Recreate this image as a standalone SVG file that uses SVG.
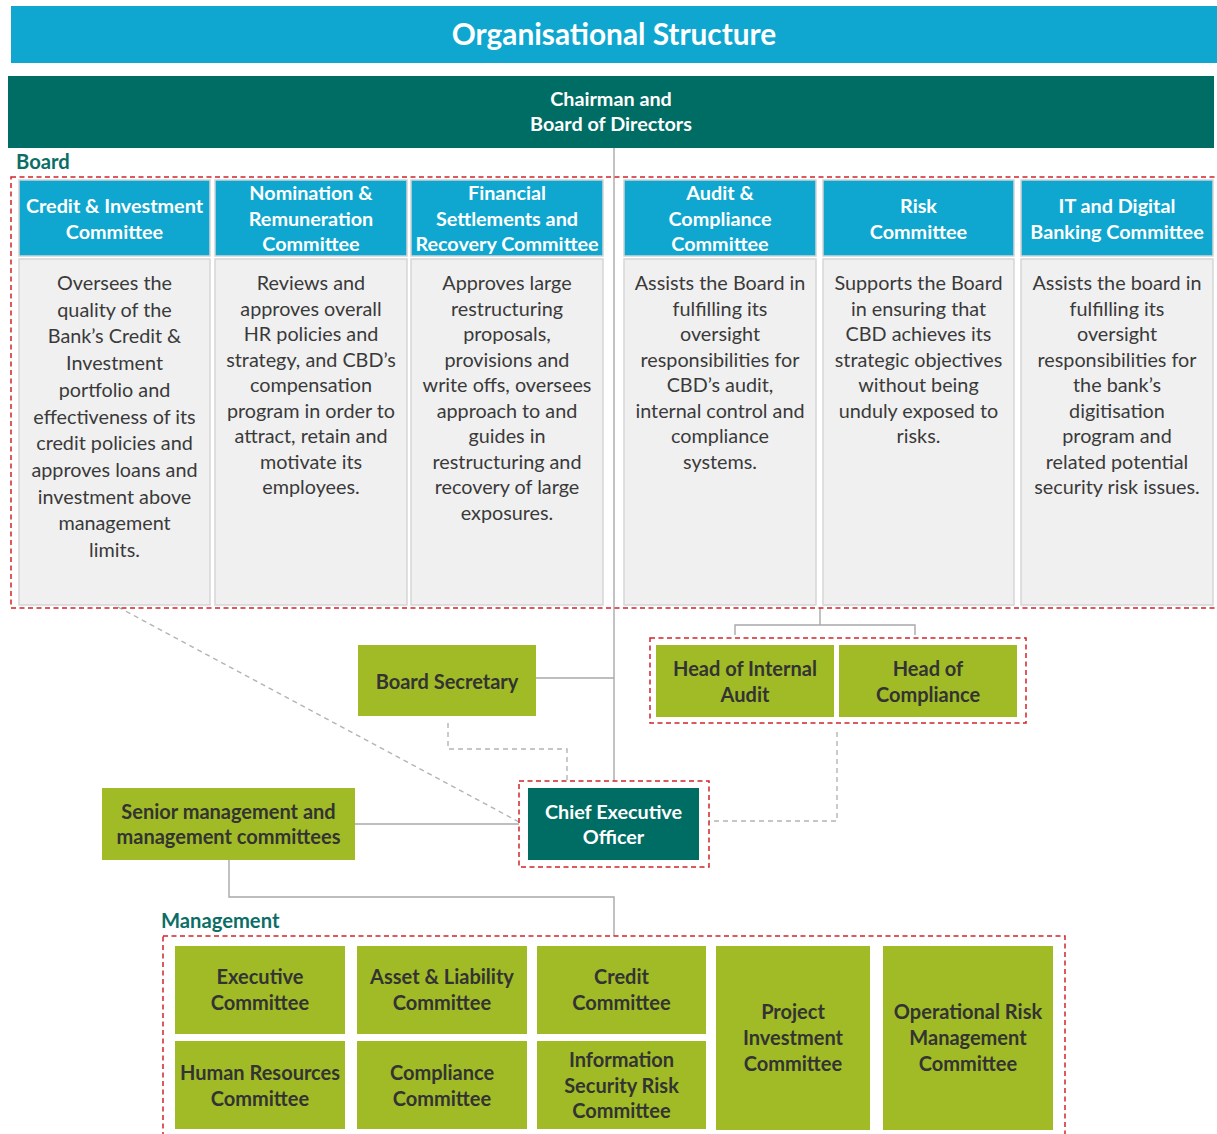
<svg xmlns="http://www.w3.org/2000/svg" width="1217" height="1134" viewBox="0 0 1217 1134">
  <style>
    text { font-family: Lato, "Open Sans", "Liberation Sans", sans-serif; text-anchor: middle; }
    .title { font-size: 29.8px; font-weight: 700; fill: #ffffff; }
    .hdr { font-size: 19.8px; font-weight: 700; fill: #ffffff; }
    .body { font-size: 19.8px; fill: #3a3a3a; }
    .grn { font-size: 20px; font-weight: 700; fill: #333333; }
    .sect { font-size: 20.2px; font-weight: 700; fill: #0b6e66; text-anchor: start; }
    .cyan { fill: #0fa7d0; }
    .cyanb { fill: #0fa7d0; stroke: #d4d4d4; stroke-width: 1.5; }
    .teal { fill: #006d64; }
    .green { fill: #a0bb25; }
    .card { fill: #f0f0f0; stroke: #d6d6d6; stroke-width: 1.5; }
    .zone { fill: none; stroke: #d2232a; stroke-width: 1.5; stroke-dasharray: 5 3.5; }
    .line { fill: none; stroke: #a8a8a8; stroke-width: 1.4; }
    .dash { fill: none; stroke: #b4b4b4; stroke-width: 1.4; stroke-dasharray: 5 4; }
  </style>

  <!-- page title -->
  <g id="title">
    <rect class="cyan" x="11" y="6" width="1206" height="57"/>
    <text class="title" x="614" y="45">Organisational Structure</text>
  </g>

  <!-- connectors -->
  <g id="connectors">
    <path class="line" d="M614 148 V781"/>
    <path class="line" d="M536 678 H614"/>
    <path class="line" d="M820 608 V625 M735 635 V625 H915 V635"/>
    <path class="line" d="M355 824 H519"/>
    <path class="line" d="M229 860 V897 H614 V936"/>
    <path class="dash" d="M118 607 L519 822"/>
    <path class="dash" d="M448 723 V749 H567 V781"/>
    <path class="dash" d="M837 732 V821 H709"/>
  </g>

  <!-- group frames -->
  <g id="zones">
    <rect class="zone" x="11" y="177" width="1215" height="431"/>
    <rect class="zone" x="650" y="638" width="376" height="85"/>
    <rect class="zone" x="519" y="781" width="190" height="86"/>
    <rect class="zone" x="163" y="936" width="902" height="210"/>
  </g>

  <g id="chairman">
    <rect class="teal" x="8" y="76" width="1206" height="72"/>
    <text class="hdr" x="611" y="106">Chairman and</text>
    <text class="hdr" x="611" y="131">Board of Directors</text>
  </g>

  <text class="sect" x="16" y="169">Board</text>

  <g id="credit-investment">
    <rect class="cyanb" x="19" y="180" width="191" height="76"/>
    <text class="hdr" x="114.5" y="213">Credit &amp; Investment</text>
    <text class="hdr" x="114.5" y="239">Committee</text>
    <rect class="card" x="19" y="259" width="191" height="346"/>
    <text class="body" x="114.5" y="290">Oversees the</text>
    <text class="body" x="114.5" y="316.7">quality of the</text>
    <text class="body" x="114.5" y="343.4">Bank’s Credit &amp;</text>
    <text class="body" x="114.5" y="370.1">Investment</text>
    <text class="body" x="114.5" y="396.8">portfolio and</text>
    <text class="body" x="114.5" y="423.5">effectiveness of its</text>
    <text class="body" x="114.5" y="450.2">credit policies and</text>
    <text class="body" x="114.5" y="476.9">approves loans and</text>
    <text class="body" x="114.5" y="503.6">investment above</text>
    <text class="body" x="114.5" y="530.3">management</text>
    <text class="body" x="114.5" y="557">limits.</text>
  </g>

  <g id="nomination-remuneration">
    <rect class="cyanb" x="215" y="180" width="192" height="76"/>
    <text class="hdr" x="311" y="200">Nomination &amp;</text>
    <text class="hdr" x="311" y="226">Remuneration</text>
    <text class="hdr" x="311" y="251">Committee</text>
    <rect class="card" x="215" y="259" width="192" height="346"/>
    <text class="body" x="311" y="290">Reviews and</text>
    <text class="body" x="311" y="315.5">approves overall</text>
    <text class="body" x="311" y="341">HR policies and</text>
    <text class="body" x="311" y="366.5">strategy, and CBD’s</text>
    <text class="body" x="311" y="392">compensation</text>
    <text class="body" x="311" y="417.5">program in order to</text>
    <text class="body" x="311" y="443">attract, retain and</text>
    <text class="body" x="311" y="468.5">motivate its</text>
    <text class="body" x="311" y="494">employees.</text>
  </g>

  <g id="financial-settlements">
    <rect class="cyanb" x="411" y="180" width="192" height="76"/>
    <text class="hdr" x="507" y="200">Financial</text>
    <text class="hdr" x="507" y="226">Settlements and</text>
    <text class="hdr" x="507" y="251">Recovery Committee</text>
    <rect class="card" x="411" y="259" width="192" height="346"/>
    <text class="body" x="507" y="290">Approves large</text>
    <text class="body" x="507" y="315.5">restructuring</text>
    <text class="body" x="507" y="341">proposals,</text>
    <text class="body" x="507" y="366.5">provisions and</text>
    <text class="body" x="507" y="392">write offs, oversees</text>
    <text class="body" x="507" y="417.5">approach to and</text>
    <text class="body" x="507" y="443">guides in</text>
    <text class="body" x="507" y="468.5">restructuring and</text>
    <text class="body" x="507" y="494">recovery of large</text>
    <text class="body" x="507" y="519.5">exposures.</text>
  </g>

  <g id="audit-compliance">
    <rect class="cyanb" x="624" y="180" width="192" height="76"/>
    <text class="hdr" x="720" y="200">Audit &amp;</text>
    <text class="hdr" x="720" y="226">Compliance</text>
    <text class="hdr" x="720" y="251">Committee</text>
    <rect class="card" x="624" y="259" width="192" height="346"/>
    <text class="body" x="720" y="290">Assists the Board in</text>
    <text class="body" x="720" y="315.5">fulfilling its</text>
    <text class="body" x="720" y="341">oversight</text>
    <text class="body" x="720" y="366.5">responsibilities for</text>
    <text class="body" x="720" y="392">CBD’s audit,</text>
    <text class="body" x="720" y="417.5">internal control and</text>
    <text class="body" x="720" y="443">compliance</text>
    <text class="body" x="720" y="468.5">systems.</text>
  </g>

  <g id="risk">
    <rect class="cyanb" x="823" y="180" width="191" height="76"/>
    <text class="hdr" x="918.5" y="213">Risk</text>
    <text class="hdr" x="918.5" y="239">Committee</text>
    <rect class="card" x="823" y="259" width="191" height="346"/>
    <text class="body" x="918.5" y="290">Supports the Board</text>
    <text class="body" x="918.5" y="315.5">in ensuring that</text>
    <text class="body" x="918.5" y="341">CBD achieves its</text>
    <text class="body" x="918.5" y="366.5">strategic objectives</text>
    <text class="body" x="918.5" y="392">without being</text>
    <text class="body" x="918.5" y="417.5">unduly exposed to</text>
    <text class="body" x="918.5" y="443">risks.</text>
  </g>

  <g id="it-digital-banking">
    <rect class="cyanb" x="1021" y="180" width="192" height="76"/>
    <text class="hdr" x="1117" y="213">IT and Digital</text>
    <text class="hdr" x="1117" y="239">Banking Committee</text>
    <rect class="card" x="1021" y="259" width="192" height="346"/>
    <text class="body" x="1117" y="290">Assists the board in</text>
    <text class="body" x="1117" y="315.5">fulfilling its</text>
    <text class="body" x="1117" y="341">oversight</text>
    <text class="body" x="1117" y="366.5">responsibilities for</text>
    <text class="body" x="1117" y="392">the bank’s</text>
    <text class="body" x="1117" y="417.5">digitisation</text>
    <text class="body" x="1117" y="443">program and</text>
    <text class="body" x="1117" y="468.5">related potential</text>
    <text class="body" x="1117" y="494">security risk issues.</text>
  </g>

  <g id="board-secretary">
    <rect class="green" x="358" y="645" width="178" height="71"/>
    <text class="grn" x="447" y="689">Board Secretary</text>
  </g>

  <g id="head-internal-audit">
    <rect class="green" x="656" y="645" width="178" height="72"/>
    <text class="grn" x="745" y="676">Head of Internal</text>
    <text class="grn" x="745" y="702">Audit</text>
  </g>

  <g id="head-compliance">
    <rect class="green" x="839" y="645" width="178" height="72"/>
    <text class="grn" x="928" y="676">Head of</text>
    <text class="grn" x="928" y="702">Compliance</text>
  </g>

  <g id="ceo">
    <rect class="teal" x="528" y="788" width="171" height="72"/>
    <text class="hdr" x="613.5" y="819">Chief Executive</text>
    <text class="hdr" x="613.5" y="844">Officer</text>
  </g>

  <g id="senior-management">
    <rect class="green" x="102" y="788" width="253" height="72"/>
    <text class="grn" x="228.5" y="819">Senior management and</text>
    <text class="grn" x="228.5" y="844">management committees</text>
  </g>

  <text class="sect" x="161" y="928">Management</text>

  <g id="executive-committee">
    <rect class="green" x="175" y="946" width="170" height="88"/>
    <text class="grn" x="260" y="984">Executive</text>
    <text class="grn" x="260" y="1010">Committee</text>
  </g>

  <g id="alco">
    <rect class="green" x="357" y="946" width="170" height="88"/>
    <text class="grn" x="442" y="984">Asset &amp; Liability</text>
    <text class="grn" x="442" y="1010">Committee</text>
  </g>

  <g id="credit-committee">
    <rect class="green" x="537" y="946" width="169" height="88"/>
    <text class="grn" x="621.5" y="984">Credit</text>
    <text class="grn" x="621.5" y="1010">Committee</text>
  </g>

  <g id="hr-committee">
    <rect class="green" x="175" y="1041" width="170" height="88"/>
    <text class="grn" x="260" y="1080">Human Resources</text>
    <text class="grn" x="260" y="1106">Committee</text>
  </g>

  <g id="compliance-committee">
    <rect class="green" x="357" y="1041" width="170" height="88"/>
    <text class="grn" x="442" y="1080">Compliance</text>
    <text class="grn" x="442" y="1106">Committee</text>
  </g>

  <g id="infosec-committee">
    <rect class="green" x="537" y="1041" width="169" height="88"/>
    <text class="grn" x="621.5" y="1067">Information</text>
    <text class="grn" x="621.5" y="1093">Security Risk</text>
    <text class="grn" x="621.5" y="1118">Committee</text>
  </g>

  <g id="project-investment">
    <rect class="green" x="716" y="946" width="154" height="184"/>
    <text class="grn" x="793" y="1019">Project</text>
    <text class="grn" x="793" y="1045">Investment</text>
    <text class="grn" x="793" y="1071">Committee</text>
  </g>

  <g id="operational-risk">
    <rect class="green" x="883" y="946" width="170" height="184"/>
    <text class="grn" x="968" y="1019">Operational Risk</text>
    <text class="grn" x="968" y="1045">Management</text>
    <text class="grn" x="968" y="1071">Committee</text>
  </g>
</svg>
